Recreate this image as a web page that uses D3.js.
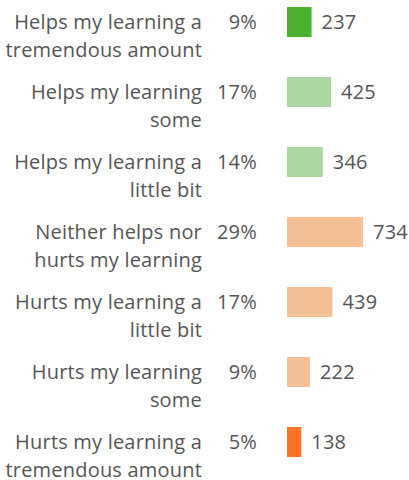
<!DOCTYPE html>
<html>
<head>
<meta charset="utf-8">
<script src="https://cdn.jsdelivr.net/npm/d3@7"></script>
<style>
  body { margin: 0; background: #fff; }
  text { font-family: "Open Sans", Lato, sans-serif; fill: #555; letter-spacing: 0.2px; }
</style>
</head>
<body>
<div id="chart"></div>
<script>
const labels = [
  ["Helps my learning a", "tremendous amount"],
  ["Helps my learning", "some"],
  ["Helps my learning a", "little bit"],
  ["Neither helps nor", "hurts my learning"],
  ["Hurts my learning a", "little bit"],
  ["Hurts my learning", "some"],
  ["Hurts my learning a", "tremendous amount"]
];
const percents = ["9%", "17%", "14%", "29%", "17%", "9%", "5%"];
const counts = [237, 425, 346, 734, 439, 222, 138];
const colors = ["#4bb130", "#acd69f", "#acd69f", "#f5c096", "#f5c096", "#f5c096", "#fd7426"];

const width = 409, height = 480;
const fontSize = "20px";
const svg = d3.select("#chart").append("svg")
  .attr("width", width)
  .attr("height", height);

// 70px per row, 30px bars
const y = d3.scaleBand()
  .domain(d3.range(counts.length))
  .range([7, 457])
  .paddingInner(40 / 70)
  .paddingOuter(0);

const x = d3.scaleLinear()
  .domain([0, d3.max(counts)])
  .range([287, 363]);

const rows = svg.selectAll("g.row")
  .data(counts)
  .join("g")
  .attr("class", "row")
  .attr("transform", (d, i) => `translate(0,${y(i)})`);

rows.append("rect")
  .attr("x", x(0))
  .attr("y", 0)
  .attr("width", d => x(d) - x(0))
  .attr("height", y.bandwidth())
  .attr("fill", (d, i) => colors[i]);

rows.append("text")
  .attr("x", d => x(d) + 10)
  .attr("y", y.bandwidth() / 2)
  .attr("dy", "0.35em")
  .style("font-size", fontSize)
  .text(d => d);

rows.append("text")
  .attr("x", 257)
  .attr("y", y.bandwidth() / 2)
  .attr("dy", "0.35em")
  .attr("text-anchor", "end")
  .style("font-size", fontSize)
  .text((d, i) => percents[i]);

rows.append("text")
  .attr("text-anchor", "end")
  .style("font-size", fontSize)
  .selectAll("tspan")
  .data((d, i) => labels[i])
  .join("tspan")
  .attr("x", 202)
  .attr("y", (d, j) => y.bandwidth() / 2 + j * 28)
  .attr("dy", "0.35em")
  .text(d => d);
</script>
</body>
</html>
